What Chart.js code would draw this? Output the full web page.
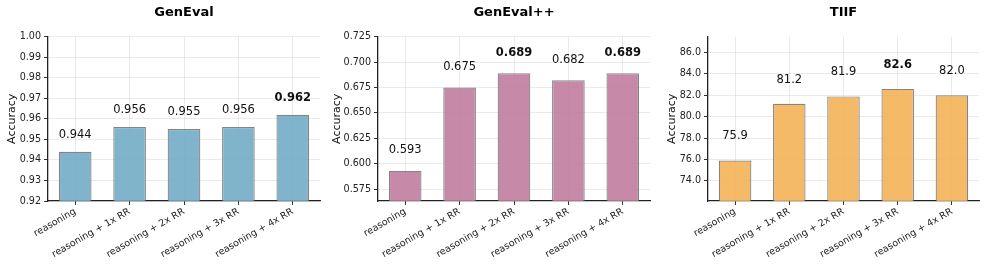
<!DOCTYPE html>
<html><head><meta charset="utf-8">
<script src="https://cdn.jsdelivr.net/npm/chart.js@4.4.1/dist/chart.umd.min.js"></script>
<style>
html,body{margin:0;padding:0;background:#fff;}
#wrap{position:relative;width:986px;height:269px;overflow:hidden;background:#fff;}
canvas{position:absolute;top:0;}
</style></head><body>
<div id="wrap">
<canvas id="c1" width="330" height="269" style="left:0px"></canvas>
<canvas id="c2" width="328" height="269" style="left:330px"></canvas>
<canvas id="c3" width="328" height="269" style="left:658px"></canvas>
</div>
<script>
const categories = ['reasoning', 'reasoning + 1x RR', 'reasoning + 2x RR', 'reasoning + 3x RR', 'reasoning + 4x RR'];
const genevalValues = [0.944, 0.956, 0.955, 0.956, 0.962];
const genevalPlusValues = [0.593, 0.675, 0.689, 0.682, 0.689];
const tiifValues = [75.9, 81.2, 81.9, 82.6, 82.0];
const genevalTicks = [0.92, 0.93, 0.94, 0.95, 0.96, 0.97, 0.98, 0.99, 1.00];
const genevalPlusTicks = [0.575, 0.600, 0.625, 0.650, 0.675, 0.700, 0.725];
const tiifTicks = [74, 76, 78, 80, 82, 84, 86];
const genevalRange = [0.92, 1.00];
const genevalPlusRange = [0.5634, 0.725];
const tiifRange = [72.1, 87.5];

Chart.defaults.font.family = '"DejaVu Sans", sans-serif';
Chart.defaults.color = '#222';

const valueLabels = {
  id: 'valueLabels',
  afterDatasetsDraw(chart, args, opts) {
    const ctx = chart.ctx;
    const meta = chart.getDatasetMeta(0);
    const data = chart.data.datasets[0].data;
    const maxV = Math.max(...data);
    ctx.save();
    ctx.textAlign = 'center';
    ctx.textBaseline = 'middle';
    ctx.fillStyle = '#111';
    meta.data.forEach((bar, i) => {
      const v = data[i];
      ctx.font = (v === maxV ? 'bold ' : '') + '11.5px "DejaVu Sans"';
      ctx.fillText(v.toFixed(opts.decimals), bar.x, bar.y - opts.offset);
    });
    ctx.restore();
  }
};

function makeChart(id, title, values, ticks, range, color, tickDec, labelDec, st) {
  new Chart(document.getElementById(id), {
    type: 'bar',
    data: {
      labels: categories,
      datasets: [{
        data: values,
        backgroundColor: color,
        borderColor: 'rgba(110,110,110,0.85)',
        borderWidth: 1.2,
        barPercentage: 0.6,
        categoryPercentage: 1.0
      }]
    },
    plugins: [valueLabels],
    options: {
      responsive: false,
      animation: false,
      devicePixelRatio: 1,
      layout: { padding: { left: 0, right: st.padRight, top: 0, bottom: 0 } },
      plugins: {
        legend: { display: false },
        tooltip: { enabled: false },
        title: {
          display: true, text: title, fullSize: false,
          color: '#000',
          font: { size: 13, weight: 'bold' },
          padding: { top: 5, bottom: 16 }
        },
        valueLabels: { decimals: labelDec, offset: st.labelOffset }
      },
      scales: {
        x: {
          offset: true,
          grid: { display: true, offset: false, color: 'rgba(0,0,0,0.08)', drawTicks: true, tickLength: 4, tickColor: '#333' },
          border: { display: true, color: '#222', width: 1.3 },
          ticks: { autoSkip: false, maxRotation: 30, minRotation: 30, padding: 1, font: { size: 9.5 }, color: '#222' },
          afterFit(scale) { scale.height = 68; }
        },
        y: {
          min: range[0], max: range[1],
          afterBuildTicks(scale) { scale.ticks = ticks.map(v => ({ value: v })); },
          grid: { color: 'rgba(0,0,0,0.08)', drawTicks: true, tickLength: 4, tickColor: '#333' },
          border: { display: true, color: '#222', width: 1.3 },
          ticks: { padding: 3, font: { size: 9.6 }, color: '#222', callback: v => Number(v).toFixed(tickDec) },
          title: { display: true, text: 'Accuracy', font: { size: 11 }, color: '#111', padding: { top: st.titlePad, bottom: 0 } },
          afterFit(scale) { scale.width = st.yWidth; }
        }
      }
    }
  });
}

makeChart('c1', 'GenEval', genevalValues, genevalTicks, genevalRange, 'rgba(114,172,198,0.9)', 2, 3,
  { yWidth: 48, padRight: 10, titlePad: 5.4, labelOffset: 16.7 });
makeChart('c2', 'GenEval++', genevalPlusValues, genevalPlusTicks, genevalPlusRange, 'rgba(192,125,159,0.9)', 3, 3,
  { yWidth: 48, padRight: 8, titlePad: 0.7, labelOffset: 20.5 });
makeChart('c3', 'TIIF', tiifValues, tiifTicks, tiifRange, 'rgba(243,178,87,0.9)', 1, 1,
  { yWidth: 50, padRight: 7, titlePad: 7.7, labelOffset: 24 });
</script>
</body></html>
